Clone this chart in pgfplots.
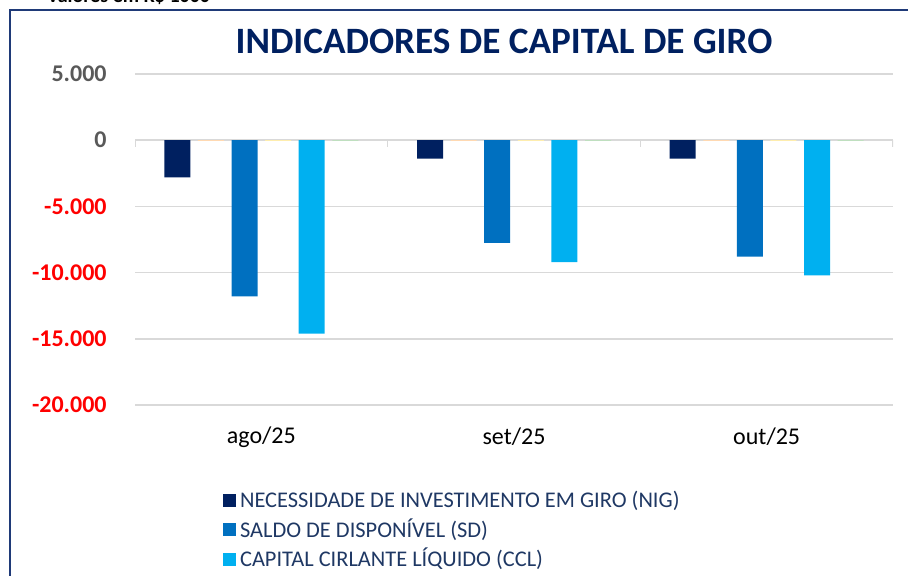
\documentclass[border=0pt]{standalone}
\usepackage{fontspec}
\setmainfont{Carlito}
\usepackage{pgfplots}
\pgfplotsset{compat=1.18}

\definecolor{nig}{HTML}{002060}
\definecolor{sd}{HTML}{0070C0}
\definecolor{ccl}{HTML}{00B0F0}
\definecolor{framecol}{HTML}{1F3A78}
\definecolor{gridgray}{HTML}{D9D9D9}
\definecolor{ticklbl}{HTML}{595959}
\definecolor{legtxt}{HTML}{1F3864}

\begin{document}
\begin{tikzpicture}[x=0.5pt,y=0.5pt]
\path[use as bounding box] (0,0) rectangle (908,575);
% moldura
\draw[framecol, line width=0.9pt] (10,-5) -- (10,565) -- (920,565);
\node[anchor=base west, font=\bfseries\fontsize{10}{12}\selectfont] at (40,573) {Valores em R\$ 1000};
\node[font=\bfseries\fontsize{18.6}{22}\selectfont, text=nig] at (504,534) {INDICADORES DE CAPITAL DE GIRO};

\begin{axis}[
	at={(67.5pt,85pt)}, anchor=south west,
	scale only axis, width=379pt, height=165.5pt,
	xmin=-0.5, xmax=2.5,
	ymin=-20000, ymax=5000,
	scaled y ticks=false,
	axis line style={draw=none},
	major tick length=0pt,
	ytick={-20000,-15000,-10000,-5000,0,5000},
	yticklabels={\textcolor{red}{-20.000},\textcolor{red}{-15.000},\textcolor{red}{-10.000},\textcolor{red}{-5.000},\textcolor{ticklbl}{0},\textcolor{ticklbl}{5.000}},
	yticklabel style={font=\bfseries\fontsize{12}{14}\selectfont, inner sep=0pt, anchor=east, xshift=-14pt},
	xtick={0,1,2},
	xticklabels={ago/25,set/25,out/25},
	xticklabel style={font=\fontsize{12}{14}\selectfont, anchor=center, yshift=-16pt},
	ymajorgrids,
	grid style={gridgray, line width=0.75pt},
	ybar, bar width=13pt,
	legend style={at={(0.108,-0.235)}, anchor=north west, draw=none, fill=none,
		font=\fontsize{11.2}{13}\selectfont, text=legtxt, row sep=0pt},
	legend cell align=left,
	legend image code/.code={\draw[#1, draw=none] (0pt,-3.2pt) rectangle (6.4pt,3.2pt);},
]
% marcas do eixo em zero
\draw[gridgray, line width=0.75pt] (axis cs:-0.5,0) -- ++(0pt,-3.5pt);
\draw[gridgray, line width=0.75pt] (axis cs:0.5,0) -- ++(0pt,-3.5pt);
\draw[gridgray, line width=0.75pt] (axis cs:1.5,0) -- ++(0pt,-3.5pt);
\draw[gridgray, line width=0.75pt] (axis cs:2.5,0) -- ++(0pt,-3.5pt);

\addplot[bar shift=-42pt, fill=nig, draw=none] coordinates {(0,-2800) (1,-1400) (2,-1400)};
\addlegendentry{NECESSIDADE DE INVESTIMENTO EM GIRO (NIG)}
\addplot[bar shift=-8.4pt, fill=sd, draw=none] coordinates {(0,-11800) (1,-7750) (2,-8800)};
\addlegendentry{SALDO DE DISPONÍVEL (SD)}
\addplot[bar shift=25.2pt, fill=ccl, draw=none] coordinates {(0,-14600) (1,-9200) (2,-10200)};
\addlegendentry{CAPITAL CIRLANTE LÍQUIDO (CCL)}
% series com valor zero
\addplot[forget plot, bar shift=-25.2pt, draw=orange!30, fill=none, line width=0.6pt] coordinates {(0,0) (1,0) (2,0)};
\addplot[forget plot, bar shift=8.4pt, draw=yellow!60!orange!30, fill=none, line width=0.6pt] coordinates {(0,0) (1,0) (2,0)};
\addplot[forget plot, bar shift=42pt, draw=green!50!black!25, fill=none, line width=0.6pt] coordinates {(0,0) (1,0) (2,0)};
\end{axis}
\end{tikzpicture}
\end{document}
